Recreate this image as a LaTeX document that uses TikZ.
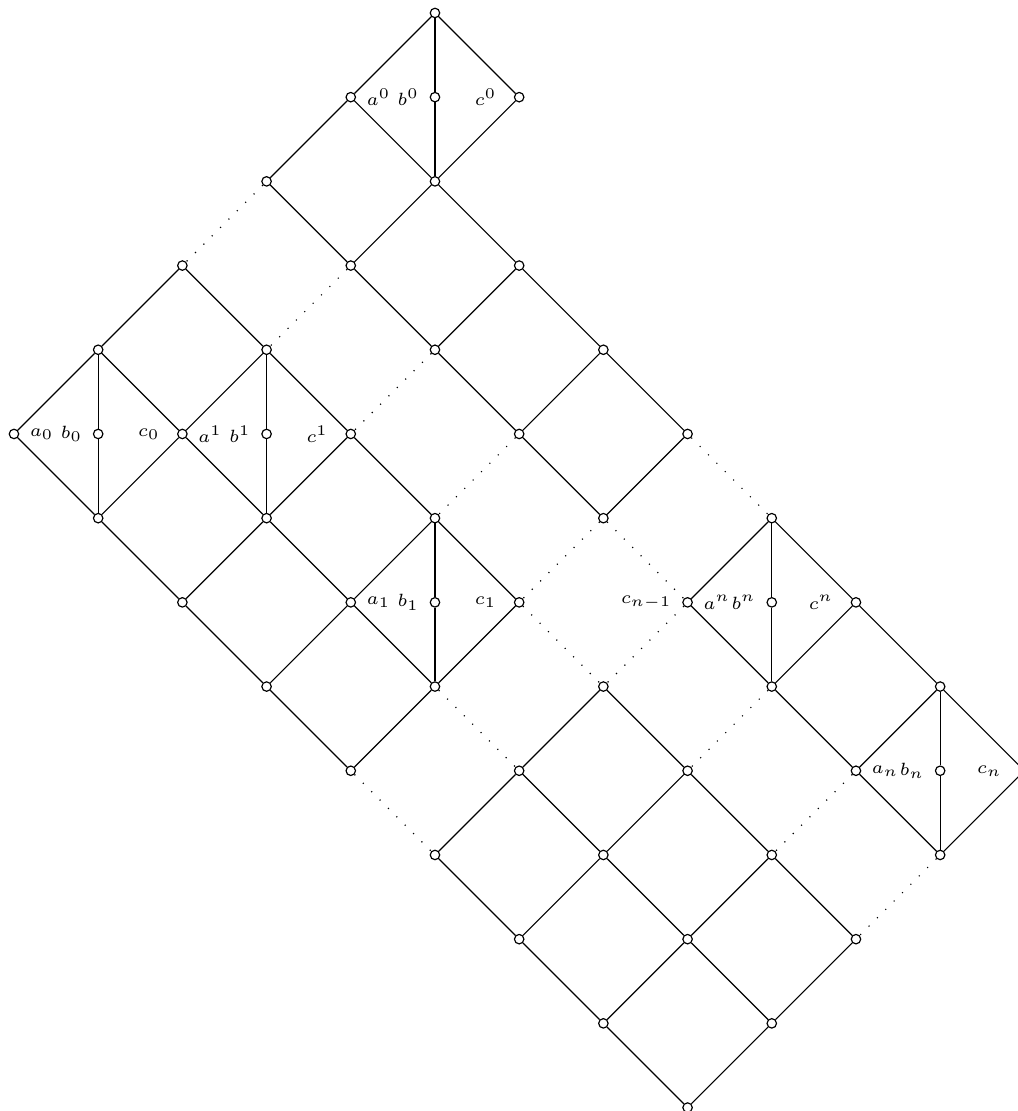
\documentclass[tikz,border=0pt]{standalone}
\usetikzlibrary{positioning}
\begin{document}
\begin{tikzpicture}[x=1cm,y=1cm,
  vtx/.style={draw, circle, fill=white, inner sep=0pt, minimum size=3.2pt, line width=0.4pt},
  lbl/.style={inner sep=0pt, font=\fontsize{6}{7}\selectfont},
  dotline/.style={line width=0.4pt, dash pattern=on 0.4pt off 3.6pt}]
\useasboundingbox (-0.166,-13.041) rectangle (11.924,0.154);
% vertices, named by column and row
\node[vtx] (n5-0) at (5,0) {};
\node[vtx] (n4-1) at (4,-1) {};
\node[vtx] (n5-1) at (5,-1) {};
\node[vtx] (n6-1) at (6,-1) {};
\node[vtx] (n3-2) at (3,-2) {};
\node[vtx] (n5-2) at (5,-2) {};
\node[vtx] (n2-3) at (2,-3) {};
\node[vtx] (n4-3) at (4,-3) {};
\node[vtx] (n6-3) at (6,-3) {};
\node[vtx] (n1-4) at (1,-4) {};
\node[vtx] (n3-4) at (3,-4) {};
\node[vtx] (n5-4) at (5,-4) {};
\node[vtx] (n7-4) at (7,-4) {};
\node[vtx] (n0-5) at (0,-5) {};
\node[vtx] (n1-5) at (1,-5) {};
\node[vtx] (n2-5) at (2,-5) {};
\node[vtx] (n3-5) at (3,-5) {};
\node[vtx] (n4-5) at (4,-5) {};
\node[vtx] (n6-5) at (6,-5) {};
\node[vtx] (n8-5) at (8,-5) {};
\node[vtx] (n1-6) at (1,-6) {};
\node[vtx] (n3-6) at (3,-6) {};
\node[vtx] (n5-6) at (5,-6) {};
\node[vtx] (n7-6) at (7,-6) {};
\node[vtx] (n9-6) at (9,-6) {};
\node[vtx] (n2-7) at (2,-7) {};
\node[vtx] (n4-7) at (4,-7) {};
\node[vtx] (n5-7) at (5,-7) {};
\node[vtx] (n6-7) at (6,-7) {};
\node[vtx] (n8-7) at (8,-7) {};
\node[vtx] (n9-7) at (9,-7) {};
\node[vtx] (n10-7) at (10,-7) {};
\node[vtx] (n3-8) at (3,-8) {};
\node[vtx] (n5-8) at (5,-8) {};
\node[vtx] (n7-8) at (7,-8) {};
\node[vtx] (n9-8) at (9,-8) {};
\node[vtx] (n11-8) at (11,-8) {};
\node[vtx] (n4-9) at (4,-9) {};
\node[vtx] (n6-9) at (6,-9) {};
\node[vtx] (n8-9) at (8,-9) {};
\node[vtx] (n10-9) at (10,-9) {};
\node[vtx] (n11-9) at (11,-9) {};
\node[vtx] (n12-9) at (12,-9) {};
\node[vtx] (n5-10) at (5,-10) {};
\node[vtx] (n7-10) at (7,-10) {};
\node[vtx] (n9-10) at (9,-10) {};
\node[vtx] (n11-10) at (11,-10) {};
\node[vtx] (n6-11) at (6,-11) {};
\node[vtx] (n8-11) at (8,-11) {};
\node[vtx] (n10-11) at (10,-11) {};
\node[vtx] (n7-12) at (7,-12) {};
\node[vtx] (n9-12) at (9,-12) {};
\node[vtx] (n8-13) at (8,-13) {};
% labels
\node[lbl, right=0.12 of n4-1] (la0up) {$a^0$};
\node[lbl, left=0.12 of n5-1] (lb0up) {$b^0$};
\node[lbl, left=0.2 of n6-1] (lc0up) {$c^0$};
\node[lbl, right=0.12 of n0-5] (la0dn) {$a_0$};
\node[lbl, left=0.12 of n1-5] (lb0dn) {$b_0$};
\node[lbl, left=0.2 of n2-5] (lc0dn) {$c_0$};
\node[lbl, right=0.12 of n2-5] (la1up) {$a^1$};
\node[lbl, left=0.12 of n3-5] (lb1up) {$b^1$};
\node[lbl, left=0.2 of n4-5] (lc1up) {$c^1$};
\node[lbl, right=0.12 of n4-7] (la1dn) {$a_1$};
\node[lbl, left=0.12 of n5-7] (lb1dn) {$b_1$};
\node[lbl, left=0.2 of n6-7] (lc1dn) {$c_1$};
\node[lbl, left=0.12 of n8-7] (lcpre) {$c_{n-1}$};
\node[lbl, right=0.12 of n8-7] (lanup) {$a^n$};
\node[lbl, left=0.12 of n9-7] (lbnup) {$b^n$};
\node[lbl, left=0.2 of n10-7] (lcnup) {$c^n$};
\node[lbl, right=0.12 of n10-9] (landn) {$a_n$};
\node[lbl, left=0.12 of n11-9] (lbndn) {$b_n$};
\node[lbl, left=0.2 of n12-9] (lcndn) {$c_n$};
% solid edges
\draw (n5-0) -- (n4-1);
\draw (n5-0) -- (n6-1);
\draw (n5-0) -- (n5-1);
\draw (n5-1) -- (n5-2);
\draw (n4-1) -- (n5-2);
\draw (n6-1) -- (n5-2);
\draw (n4-1) -- (n3-2);
\draw (n3-2) -- (n4-3);
\draw (n5-2) -- (n4-3);
\draw (n5-2) -- (n6-3);
\draw (n4-3) -- (n5-4);
\draw (n6-3) -- (n5-4);
\draw (n6-3) -- (n7-4);
\draw (n5-4) -- (n6-5);
\draw (n7-4) -- (n6-5);
\draw (n7-4) -- (n8-5);
\draw (n6-5) -- (n7-6);
\draw (n8-5) -- (n7-6);
\draw (n2-3) -- (n1-4);
\draw (n2-3) -- (n3-4);
\draw (n1-4) -- (n0-5);
\draw (n1-4) -- (n1-5);
\draw (n1-5) -- (n1-6);
\draw (n1-4) -- (n2-5);
\draw (n0-5) -- (n1-6);
\draw (n2-5) -- (n1-6);
\draw (n3-4) -- (n2-5);
\draw (n3-4) -- (n3-5);
\draw (n3-5) -- (n3-6);
\draw (n3-4) -- (n4-5);
\draw (n2-5) -- (n3-6);
\draw (n4-5) -- (n3-6);
\draw (n4-5) -- (n5-6);
\draw (n1-6) -- (n2-7);
\draw (n3-6) -- (n2-7);
\draw (n3-6) -- (n4-7);
\draw (n5-6) -- (n4-7);
\draw (n5-6) -- (n5-7);
\draw (n5-7) -- (n5-8);
\draw (n5-6) -- (n6-7);
\draw (n4-7) -- (n5-8);
\draw (n6-7) -- (n5-8);
\draw (n2-7) -- (n3-8);
\draw (n4-7) -- (n3-8);
\draw (n3-8) -- (n4-9);
\draw (n5-8) -- (n4-9);
\draw (n9-6) -- (n8-7);
\draw (n9-6) -- (n9-7);
\draw (n9-7) -- (n9-8);
\draw (n9-6) -- (n10-7);
\draw (n8-7) -- (n9-8);
\draw (n10-7) -- (n9-8);
\draw (n10-7) -- (n11-8);
\draw (n9-8) -- (n10-9);
\draw (n11-8) -- (n10-9);
\draw (n11-8) -- (n11-9);
\draw (n11-9) -- (n11-10);
\draw (n11-8) -- (n12-9);
\draw (n10-9) -- (n11-10);
\draw (n12-9) -- (n11-10);
\draw (n7-8) -- (n6-9);
\draw (n7-8) -- (n8-9);
\draw (n6-9) -- (n5-10);
\draw (n6-9) -- (n7-10);
\draw (n8-9) -- (n7-10);
\draw (n8-9) -- (n9-10);
\draw (n5-10) -- (n6-11);
\draw (n7-10) -- (n6-11);
\draw (n7-10) -- (n8-11);
\draw (n9-10) -- (n8-11);
\draw (n9-10) -- (n10-11);
\draw (n6-11) -- (n7-12);
\draw (n8-11) -- (n7-12);
\draw (n8-11) -- (n9-12);
\draw (n10-11) -- (n9-12);
\draw (n7-12) -- (n8-13);
\draw (n9-12) -- (n8-13);
% dotted edges
\draw[dotline] (n3-2) -- (n2-3);
\draw[dotline] (n4-3) -- (n3-4);
\draw[dotline] (n5-4) -- (n4-5);
\draw[dotline] (n6-5) -- (n5-6);
\draw[dotline] (n8-5) -- (n9-6);
\draw[dotline] (n7-6) -- (n6-7);
\draw[dotline] (n7-6) -- (n8-7);
\draw[dotline] (n6-7) -- (n7-8);
\draw[dotline] (n8-7) -- (n7-8);
\draw[dotline] (n5-8) -- (n6-9);
\draw[dotline] (n4-9) -- (n5-10);
\draw[dotline] (n9-8) -- (n8-9);
\draw[dotline] (n10-9) -- (n9-10);
\draw[dotline] (n11-10) -- (n10-11);
\end{tikzpicture}
\end{document}
